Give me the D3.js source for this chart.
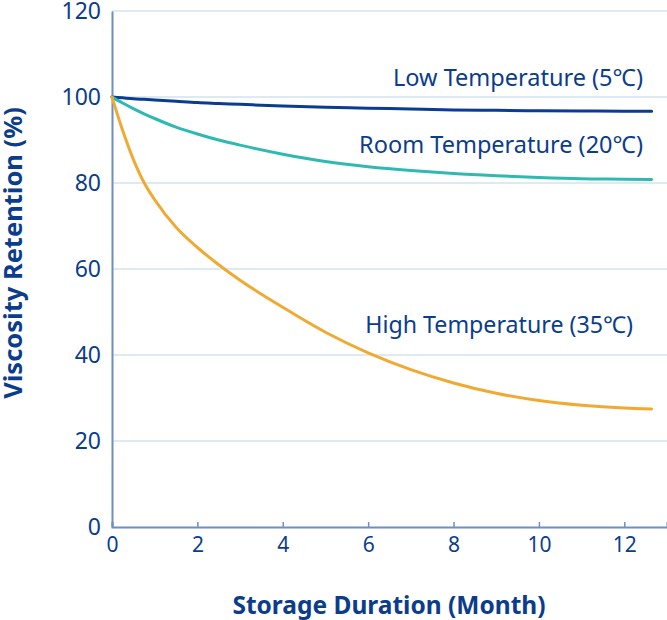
<!DOCTYPE html>
<html><head><meta charset="utf-8">
<script src="https://cdn.jsdelivr.net/npm/d3@7"></script>
<style>
html,body{margin:0;padding:0;background:#fff;}
svg{display:block;}
text{font-family:"Noto Sans",sans-serif;}
</style></head>
<body><svg id="c" width="667" height="620"></svg>
<script>
const months   = [0, 0.25, 0.5, 0.75, 1, 1.5, 2, 2.5, 3, 4, 5, 6, 7, 8, 9, 10, 11, 12, 12.64];
const lowTemp  = [100, 99.8, 99.6, 99.45, 99.3, 99.0, 98.7, 98.5, 98.3, 97.9, 97.6, 97.4, 97.2, 97.0, 96.9, 96.8, 96.75, 96.7, 96.7];
const roomTemp = [100, 98.6, 97.3, 96.1, 95.0, 93.0, 91.4, 90.0, 88.8, 86.7, 85.0, 83.8, 82.9, 82.2, 81.7, 81.3, 81.0, 80.9, 80.8];
const highTemp = [100, 92.2, 85.5, 80.1, 76.1, 69.7, 65.0, 61.0, 57.4, 51.1, 45.3, 40.5, 36.6, 33.5, 31.1, 29.4, 28.3, 27.65, 27.45];
const seriesNames = ["Low Temperature (5℃)", "Room Temperature (20℃)", "High Temperature (35℃)"];
const xTicks = [0, 2, 4, 6, 8, 10, 12];
const yTicks = [0, 20, 40, 60, 80, 100, 120];
const xTitle = "Storage Duration (Month)";
const yTitle = "Viscosity Retention (%)";

const textColor = "#0b3d8c";
const colors = ["#0a3d8f", "#2fbab1", "#f0aa33"];

const svg = d3.select("#c");
const x = d3.scaleLinear().domain([0, 13]).range([112, 667]);
const y = d3.scaleLinear().domain([0, 120]).range([527, 11]);

// grid
svg.append("g").selectAll("line").data(yTicks.filter(d => d > 0)).join("line")
  .attr("x1", x(0)).attr("x2", 667)
  .attr("y1", d => y(d)).attr("y2", d => y(d))
  .attr("stroke", "#d3e3ef").attr("stroke-width", 1.5);

// y axis
const ya = svg.append("g").attr("transform", `translate(${x(0)},0)`)
  .call(d3.axisLeft(y).tickValues(yTicks).tickSize(0).tickPadding(11));
ya.select(".domain").attr("stroke", "#6f8ec4").attr("stroke-width", 2);
ya.selectAll("text").attr("fill", textColor).attr("font-size", 23).attr("font-family", '"Noto Sans",sans-serif');

// x axis
const xa = svg.append("g").attr("transform", `translate(0,${y(0)})`)
  .call(d3.axisBottom(x).tickValues(xTicks).tickSize(-5).tickPadding(10));
xa.select(".domain").attr("stroke", "#6f8ec4").attr("stroke-width", 2);
xa.selectAll(".tick line").attr("stroke", "#6f8ec4").attr("stroke-width", 1.5);
xa.selectAll("text").attr("fill", textColor).attr("font-size", 21).attr("font-family", '"Noto Sans",sans-serif');

// lines
const all = [lowTemp, roomTemp, highTemp];
const line = d3.line().x((d, i) => x(months[i])).y(d => y(d)).curve(d3.curveMonotoneX);
all.forEach((s, k) => {
  svg.append("path").datum(s).attr("d", line)
    .attr("fill", "none").attr("stroke", colors[k]).attr("stroke-width", 3).attr("stroke-linecap", "round");
});

// series labels
const labelPos = [[643, 86], [643, 153], [633, 333]];
const labelSize = [23.5, 23.5, 23.2];
seriesNames.forEach((n, k) => {
  svg.append("text").attr("x", labelPos[k][0]).attr("y", labelPos[k][1])
    .attr("text-anchor", "end").attr("fill", textColor).attr("font-size", labelSize[k]).text(n);
});

// titles
svg.append("text").attr("x", 389).attr("y", 614).attr("text-anchor", "middle")
  .attr("fill", textColor).attr("font-size", 24.5).attr("font-weight", "bold").text(xTitle);
svg.append("text").attr("transform", "translate(22,253) rotate(-90)").attr("text-anchor", "middle")
  .attr("fill", textColor).attr("font-size", 25.5).attr("font-weight", "bold").text(yTitle);
</script></body></html>
